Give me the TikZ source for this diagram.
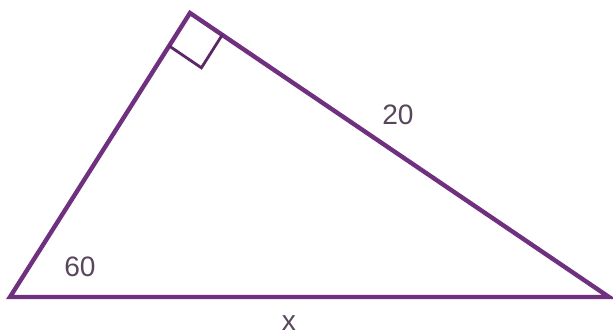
\documentclass[tikz,border=0pt]{standalone}
\usepackage{fontspec}
\setmainfont{Liberation Sans}
\definecolor{TriPurple}{RGB}{112, 48, 128}
\definecolor{LabelGrey}{RGB}{88, 70, 92}
\usetikzlibrary{calc}

\begin{document}
\begin{tikzpicture}[x=0.02cm, y=-0.02cm, every node/.style={font=\fontsize{16}{18}\selectfont, text=LabelGrey}]
    \useasboundingbox (0,0) rectangle (613,335);
    \coordinate (apex) at (190,13);
    \coordinate (bl) at (10,297);
    \coordinate (br) at (609,297);
    % triangle
    \draw[TriPurple, line width=2.5pt, line join=miter] (bl) -- (apex) -- (br) -- cycle;
    % right angle mark
    \coordinate (sq1) at ($(apex)!0.78cm!(bl)$);
    \coordinate (sq2) at ($(apex)!0.78cm!(br)$);
    \draw[TriPurple!80!black, line width=1.6pt] (sq1) -- ($(sq1)+(sq2)-(apex)$) -- (sq2);
    % labels
    \node (hyp) at (398,115) {20};
    \node (ang) at (80,267) {60};
    \node (base) at (289,323) {x};
\end{tikzpicture}
\end{document}
